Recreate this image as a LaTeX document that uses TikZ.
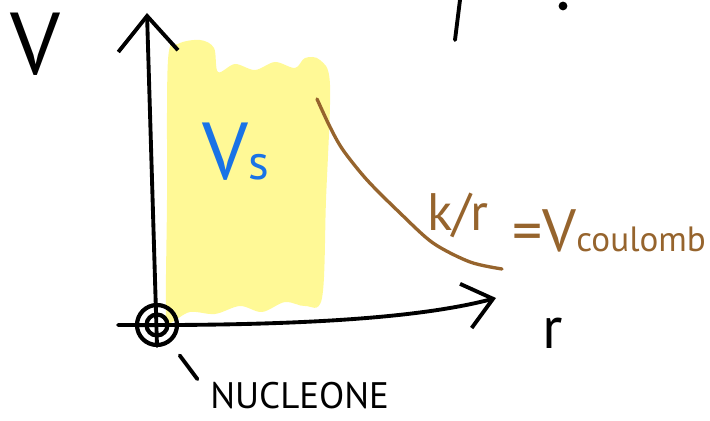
\documentclass[tikz,border=0pt]{standalone}
\usepackage{fontspec}
\setmainfont{PT Sans}
\usetikzlibrary{arrows.meta}

\definecolor{hiyellow}{RGB}{255,249,150}
\definecolor{inkbrown}{RGB}{150,100,45}
\definecolor{inkblue}{RGB}{25,115,230}

\begin{document}
\begin{tikzpicture}[
    x=0.02cm, y=-0.02cm,
    ink/.style={line width=2.2pt, line cap=round, line join=round},
    yaxis/.style={ink, -{Straight Barb[length=20pt, width=34pt, line width=2.2pt]}},
    xaxis/.style={ink, -{Straight Barb[length=16pt, width=26pt, line width=2.2pt]}},
    ring/.style={circle, draw, line width=2.4pt, inner sep=0pt},
    lbl/.style={inner sep=0pt}
]
\useasboundingbox (0,0) rectangle (710,421);

% --- highlighted strong region ---
\fill[hiyellow] plot[smooth cycle, tension=0.55] coordinates {
    (166,318) (167,200) (168,60) (178,44) (200,40) (214,48) (218,72)
    (235,64) (255,70) (275,62) (295,68) (305,58) (320,60) (330,85)
    (326,200) (322,298) (305,306) (285,302) (262,312) (240,306)
    (215,314) (190,312) (172,322)};

% --- axes ---
\coordinate (xleft) at (118,325);
\coordinate (xtip) at (496,298);
\coordinate (ybottom) at (157,346);
\coordinate (ytip) at (147,13);
\draw[xaxis] (xleft) .. controls (300,326) and (420,318) .. (xtip);
\draw[yaxis] (ybottom) -- (ytip);

% --- nucleon at origin ---
\node[ring, minimum size=0.8cm] (nuc) at (157,325) {};
\node[ring, minimum size=0.42cm] (nucin) at (nuc) {};

% --- labels ---
\node[lbl, font=\fontsize{50}{50}\selectfont] (vlabel) at (35,44) {V};
\node[lbl, font=\fontsize{34}{34}\selectfont] (rlabel) at (553,333) {r};
\node[lbl, inkblue, font=\fontsize{46}{46}\selectfont] (vs) at (236,152)
    {V{\fontsize{28}{28}\selectfont s}};
\node[lbl, anchor=west, font=\fontsize{21}{21}\selectfont] (nuclabel) at (210,396)
    {NUCLEONE};
\draw[ink, shorten <=0.76cm, shorten >=0.42cm] (nuc.center) -- (nuclabel.west);

% --- coulomb tail ---
\draw[ink, line width=1.9pt, inkbrown] plot[smooth] coordinates {
    (317,99) (330,127) (343,150) (367,180) (400,213) (433,243)
    (470,262) (502,269)};
\node[lbl, inkbrown, font=\fontsize{30}{30}\selectfont] (kr) at (458,215) {k/r};
\node[lbl, inkbrown, anchor=base west, font=\fontsize{34}{34}\selectfont] (vc)
    at (512,252) {=V{\fontsize{20}{20}\selectfont coulomb}};

% --- cut strokes at top edge ---
\draw[ink] (460,0) -- (455,40);
\fill (563,6) circle (2.5pt);

\end{tikzpicture}
\end{document}
